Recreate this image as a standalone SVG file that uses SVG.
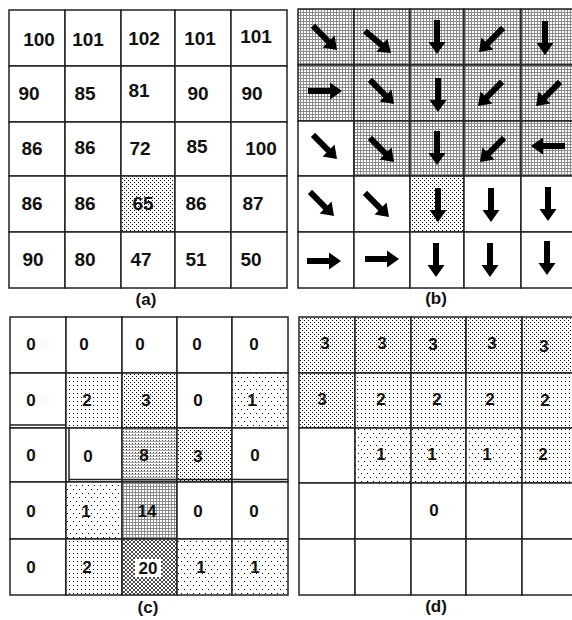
<svg xmlns="http://www.w3.org/2000/svg" xmlns:xlink="http://www.w3.org/1999/xlink" width="572" height="620" viewBox="0 0 572 620">
<style>
.c{fill:#fff;stroke:#222;stroke-width:1.5}
.t{font-family:"Liberation Sans",Arial,sans-serif;font-weight:bold;font-size:19px;fill:#111;text-anchor:middle}
.s{font-family:"Liberation Sans",Arial,sans-serif;font-weight:bold;font-size:17px;fill:#111;text-anchor:middle}
.lab{font-family:"Liberation Sans",Arial,sans-serif;font-weight:bold;font-size:17px;fill:#111;text-anchor:middle}
.ar{fill:#000}
.bl{stroke:#222;stroke-width:1.5;fill:none}
</style>
<defs>
<pattern id="pChk" width="4" height="4" patternUnits="userSpaceOnUse"><rect width="4" height="4" fill="#fff"/><rect x="0" y="0" width="1" height="1" fill="#000"/><rect x="2" y="2" width="1" height="1" fill="#000"/></pattern>
<pattern id="p2" width="4" height="4" patternUnits="userSpaceOnUse"><rect width="4" height="4" fill="#fff"/><rect x="1" y="1" width="1" height="1" fill="#000"/></pattern>
<pattern id="p1" width="6" height="8" patternUnits="userSpaceOnUse"><rect width="6" height="8" fill="#fff"/><rect x="1" y="1" width="1" height="1" fill="#000"/><rect x="4" y="5" width="1" height="1" fill="#000"/></pattern>
<pattern id="pGrid" width="3" height="3" patternUnits="userSpaceOnUse"><rect width="3" height="3" fill="#fff"/><rect x="0" y="0" width="3" height="1" fill="#8a8a8a"/><rect x="0" y="0" width="1" height="3" fill="#8a8a8a"/></pattern>
<pattern id="p8" width="3" height="3" patternUnits="userSpaceOnUse"><rect width="3" height="3" fill="#fff"/><rect x="0" y="0" width="3" height="1" fill="#aaa"/><rect x="0" y="2" width="1" height="1" fill="#444"/></pattern>
<pattern id="pX" width="4" height="4" patternUnits="userSpaceOnUse"><rect width="4" height="4" fill="#fff"/><path d="M0,0 L4,4 M4,0 L0,4" stroke="#333" stroke-width="0.9"/></pattern>
<path id="arr" d="M-17,-3 H5 V-8.5 L17,0 L5,8.5 V3 H-17 Z"/>
</defs>

<!-- Panel (a) -->
<g id="panel-a">
<g id="a11"><rect class="c" x="9" y="10" width="56" height="56"/><text class="t" x="39" y="46">100</text></g>
<g id="a12"><rect class="c" x="65" y="10" width="56" height="56"/><text class="t" x="88" y="46">101</text></g>
<g id="a13"><rect class="c" x="121" y="10" width="54" height="56"/><text class="t" x="144" y="45">102</text></g>
<g id="a14"><rect class="c" x="175" y="10" width="56" height="56"/><text class="t" x="200" y="45">101</text></g>
<g id="a15"><rect class="c" x="231" y="10" width="56" height="56"/><text class="t" x="256" y="43">101</text></g>
<g id="a21"><rect class="c" x="9" y="66" width="56" height="56"/><text class="t" x="29" y="100">90</text></g>
<g id="a22"><rect class="c" x="65" y="66" width="56" height="56"/><text class="t" x="85" y="100">85</text></g>
<g id="a23"><rect class="c" x="121" y="66" width="54" height="56"/><text class="t" x="139" y="97">81</text></g>
<g id="a24"><rect class="c" x="175" y="66" width="56" height="56"/><text class="t" x="198" y="100">90</text></g>
<g id="a25"><rect class="c" x="231" y="66" width="56" height="56"/><text class="t" x="252" y="100">90</text></g>
<g id="a31"><rect class="c" x="9" y="122" width="56" height="54"/><text class="t" x="32" y="155">86</text></g>
<g id="a32"><rect class="c" x="65" y="122" width="56" height="54"/><text class="t" x="85" y="154">86</text></g>
<g id="a33"><rect class="c" x="121" y="122" width="54" height="54"/><text class="t" x="140" y="155">72</text></g>
<g id="a34"><rect class="c" x="175" y="122" width="56" height="54"/><text class="t" x="197" y="153">85</text></g>
<g id="a35"><rect class="c" x="231" y="122" width="56" height="54"/><text class="t" x="261" y="155">100</text></g>
<g id="a41"><rect class="c" x="9" y="176" width="56" height="56"/><text class="t" x="32" y="210">86</text></g>
<g id="a42"><rect class="c" x="65" y="176" width="56" height="56"/><text class="t" x="85" y="210">86</text></g>
<g id="a43"><rect class="c" x="121" y="176" width="54" height="56" style="fill:url(#pChk)"/><text class="t" x="143" y="210">65</text></g>
<g id="a44"><rect class="c" x="175" y="176" width="56" height="56"/><text class="t" x="196" y="210">86</text></g>
<g id="a45"><rect class="c" x="231" y="176" width="56" height="56"/><text class="t" x="253" y="210">87</text></g>
<g id="a51"><rect class="c" x="9" y="232" width="56" height="56"/><text class="t" x="33" y="266">90</text></g>
<g id="a52"><rect class="c" x="65" y="232" width="56" height="56"/><text class="t" x="85" y="266">80</text></g>
<g id="a53"><rect class="c" x="121" y="232" width="54" height="56"/><text class="t" x="141" y="266">47</text></g>
<g id="a54"><rect class="c" x="175" y="232" width="56" height="56"/><text class="t" x="196" y="266">51</text></g>
<g id="a55"><rect class="c" x="231" y="232" width="56" height="56"/><text class="t" x="251" y="266">50</text></g>
<text class="lab" x="146" y="305">(a)</text>
</g>

<!-- Panel (b) -->
<g id="panel-b">
<g id="b11"><rect class="c" x="298" y="9" width="56" height="56" style="fill:url(#pGrid)"/><use href="#arr" class="ar" transform="translate(325,38) rotate(45)"/></g>
<g id="b12"><rect class="c" x="354" y="9" width="56" height="56" style="fill:url(#pGrid)"/><use href="#arr" class="ar" transform="translate(378,42) rotate(40)"/></g>
<g id="b13"><rect class="c" x="410" y="9" width="54" height="56" style="fill:url(#pGrid)"/><use href="#arr" class="ar" transform="translate(437,37) rotate(90)"/></g>
<g id="b14"><rect class="c" x="464" y="9" width="57" height="56" style="fill:url(#pGrid)"/><use href="#arr" class="ar" transform="translate(491,40) rotate(135)"/></g>
<g id="b15"><rect class="c" x="521" y="9" width="56" height="56" style="fill:url(#pGrid)"/><use href="#arr" class="ar" transform="translate(545,38) rotate(90)"/></g>
<g id="b21"><rect class="c" x="298" y="65" width="56" height="56" style="fill:url(#pGrid)"/><use href="#arr" class="ar" transform="translate(325,91)"/></g>
<g id="b22"><rect class="c" x="354" y="65" width="56" height="56" style="fill:url(#pGrid)"/><use href="#arr" class="ar" transform="translate(382,92) rotate(45)"/></g>
<g id="b23"><rect class="c" x="410" y="65" width="54" height="56" style="fill:url(#pGrid)"/><use href="#arr" class="ar" transform="translate(438,95) rotate(90)"/></g>
<g id="b24"><rect class="c" x="464" y="65" width="57" height="56" style="fill:url(#pGrid)"/><use href="#arr" class="ar" transform="translate(490,94) rotate(135)"/></g>
<g id="b25"><rect class="c" x="521" y="65" width="56" height="56" style="fill:url(#pGrid)"/><use href="#arr" class="ar" transform="translate(548,94) rotate(135)"/></g>
<g id="b31"><rect class="c" x="298" y="121" width="56" height="55"/><use href="#arr" class="ar" transform="translate(325,147) rotate(45)"/></g>
<g id="b32"><rect class="c" x="354" y="121" width="56" height="55" style="fill:url(#pGrid)"/><use href="#arr" class="ar" transform="translate(382,150) rotate(45)"/></g>
<g id="b33"><rect class="c" x="410" y="121" width="54" height="55" style="fill:url(#pGrid)"/><use href="#arr" class="ar" transform="translate(437,148) rotate(90)"/></g>
<g id="b34"><rect class="c" x="464" y="121" width="57" height="55" style="fill:url(#pGrid)"/><use href="#arr" class="ar" transform="translate(492,150) rotate(135)"/></g>
<g id="b35"><rect class="c" x="521" y="121" width="56" height="55" style="fill:url(#pGrid)"/><use href="#arr" class="ar" transform="translate(548,146) rotate(180)"/></g>
<g id="b41"><rect class="c" x="298" y="176" width="56" height="56"/><use href="#arr" class="ar" transform="translate(322,204) rotate(45)"/></g>
<g id="b42"><rect class="c" x="354" y="176" width="56" height="56"/><use href="#arr" class="ar" transform="translate(377,205) rotate(45)"/></g>
<g id="b43"><rect class="c" x="410" y="176" width="54" height="56" style="fill:url(#pChk)"/><use href="#arr" class="ar" transform="translate(438,205) rotate(90)"/></g>
<g id="b44"><rect class="c" x="464" y="176" width="57" height="56"/><use href="#arr" class="ar" transform="translate(491,205) rotate(90)"/></g>
<g id="b45"><rect class="c" x="521" y="176" width="56" height="56"/><use href="#arr" class="ar" transform="translate(548,204) rotate(90)"/></g>
<g id="b51"><rect class="c" x="298" y="232" width="56" height="56"/><use href="#arr" class="ar" transform="translate(324,261)"/></g>
<g id="b52"><rect class="c" x="354" y="232" width="56" height="56"/><use href="#arr" class="ar" transform="translate(382,259)"/></g>
<g id="b53"><rect class="c" x="410" y="232" width="54" height="56"/><use href="#arr" class="ar" transform="translate(436,260) rotate(90)"/></g>
<g id="b54"><rect class="c" x="464" y="232" width="57" height="56"/><use href="#arr" class="ar" transform="translate(490,260) rotate(90)"/></g>
<g id="b55"><rect class="c" x="521" y="232" width="56" height="56"/><use href="#arr" class="ar" transform="translate(547,258) rotate(90)"/></g>
<text class="lab" x="436" y="304">(b)</text>
</g>

<!-- Panel (c) -->
<g id="panel-c">
<g id="c11"><rect class="c" x="10" y="317" width="56" height="56"/><text class="s" x="31" y="350">0</text></g>
<g id="c12"><rect class="c" x="66" y="317" width="56" height="56"/><text class="s" x="84" y="350">0</text></g>
<g id="c13"><rect class="c" x="122" y="317" width="55" height="56"/><text class="s" x="140" y="350">0</text></g>
<g id="c14"><rect class="c" x="177" y="317" width="55" height="56"/><text class="s" x="197" y="350">0</text></g>
<g id="c15"><rect class="c" x="232" y="317" width="56" height="56"/><text class="s" x="254" y="350">0</text></g>
<g id="c21"><rect class="c" x="10" y="373" width="56" height="55"/><text class="s" x="31" y="406">0</text></g>
<g id="c22"><rect class="c" x="66" y="373" width="56" height="55" style="fill:url(#p2)"/><text class="s" x="87" y="406">2</text></g>
<g id="c23"><rect class="c" x="122" y="373" width="55" height="55" style="fill:url(#pChk)"/><text class="s" x="146" y="406">3</text></g>
<g id="c24"><rect class="c" x="177" y="373" width="55" height="55"/><text class="s" x="198" y="406">0</text></g>
<g id="c25"><rect class="c" x="232" y="373" width="56" height="55" style="fill:url(#p1)"/><text class="s" x="252" y="406">1</text></g>
<g id="c31"><rect class="c" x="10" y="428" width="56" height="54"/><text class="s" x="31" y="461">0</text></g>
<g id="c32"><rect class="c" x="66" y="428" width="56" height="54"/><text class="s" x="88" y="462">0</text></g>
<g id="c33"><rect class="c" x="122" y="428" width="55" height="54" style="fill:url(#p8)"/><text class="s" x="144" y="461">8</text></g>
<g id="c34"><rect class="c" x="177" y="428" width="55" height="54" style="fill:url(#pChk)"/><text class="s" x="198" y="462">3</text></g>
<g id="c35"><rect class="c" x="232" y="428" width="56" height="54"/><text class="s" x="255" y="461">0</text></g>
<g id="c41"><rect class="c" x="10" y="482" width="56" height="57"/><text class="s" x="31" y="517">0</text></g>
<g id="c42"><rect class="c" x="66" y="482" width="56" height="57" style="fill:url(#p1)"/><text class="s" x="86" y="517">1</text></g>
<g id="c43"><rect class="c" x="122" y="482" width="55" height="57" style="fill:url(#pGrid)"/><text class="s" x="147" y="517">14</text></g>
<g id="c44"><rect class="c" x="177" y="482" width="55" height="57"/><text class="s" x="198" y="517">0</text></g>
<g id="c45"><rect class="c" x="232" y="482" width="56" height="57"/><text class="s" x="254" y="517">0</text></g>
<g id="c51"><rect class="c" x="10" y="539" width="56" height="56"/><text class="s" x="31" y="573">0</text></g>
<g id="c52"><rect class="c" x="66" y="539" width="56" height="56" style="fill:url(#p2)"/><text class="s" x="87" y="573">2</text></g>
<g id="c53"><rect class="c" x="122" y="539" width="55" height="56" style="fill:url(#pX)"/><rect x="135" y="559" width="26" height="18" fill="#fff"/><text class="s" x="148" y="574">20</text></g>
<g id="c54"><rect class="c" x="177" y="539" width="55" height="56" style="fill:url(#p1)"/><text class="s" x="201" y="573">1</text></g>
<g id="c55"><rect class="c" x="232" y="539" width="56" height="56" style="fill:url(#p1)"/><text class="s" x="255" y="573">1</text></g>
<text class="lab" x="148" y="613">(c)</text>
</g>

<!-- Panel (d) -->
<g id="panel-d">
<g id="d11"><rect class="c" x="299" y="317" width="56" height="56" style="fill:url(#pChk)"/><text class="s" x="325" y="349">3</text></g>
<g id="d12"><rect class="c" x="355" y="317" width="56" height="56" style="fill:url(#pChk)"/><text class="s" x="382" y="349">3</text></g>
<g id="d13"><rect class="c" x="411" y="317" width="55" height="56" style="fill:url(#pChk)"/><text class="s" x="433" y="350">3</text></g>
<g id="d14"><rect class="c" x="466" y="317" width="56" height="56" style="fill:url(#pChk)"/><text class="s" x="492" y="349">3</text></g>
<g id="d15"><rect class="c" x="522" y="317" width="56" height="56" style="fill:url(#pChk)"/><text class="s" x="544" y="352">3</text></g>
<g id="d21"><rect class="c" x="299" y="373" width="56" height="55" style="fill:url(#pChk)"/><text class="s" x="322" y="405">3</text></g>
<g id="d22"><rect class="c" x="355" y="373" width="56" height="55" style="fill:url(#p2)"/><text class="s" x="381" y="405">2</text></g>
<g id="d23"><rect class="c" x="411" y="373" width="55" height="55" style="fill:url(#p2)"/><text class="s" x="437" y="405">2</text></g>
<g id="d24"><rect class="c" x="466" y="373" width="56" height="55" style="fill:url(#p2)"/><text class="s" x="490" y="405">2</text></g>
<g id="d25"><rect class="c" x="522" y="373" width="56" height="55" style="fill:url(#p2)"/><text class="s" x="545" y="406">2</text></g>
<g id="d31"><rect class="c" x="299" y="428" width="56" height="55"/></g>
<g id="d32"><rect class="c" x="355" y="428" width="56" height="55" style="fill:url(#p1)"/><text class="s" x="381" y="460">1</text></g>
<g id="d33"><rect class="c" x="411" y="428" width="55" height="55" style="fill:url(#p1)"/><text class="s" x="432" y="460">1</text></g>
<g id="d34"><rect class="c" x="466" y="428" width="56" height="55" style="fill:url(#p1)"/><text class="s" x="487" y="460">1</text></g>
<g id="d35"><rect class="c" x="522" y="428" width="56" height="55" style="fill:url(#p2)"/><text class="s" x="543" y="460">2</text></g>
<g id="d41"><rect class="c" x="299" y="483" width="56" height="56"/></g>
<g id="d42"><rect class="c" x="355" y="483" width="56" height="56"/></g>
<g id="d43"><rect class="c" x="411" y="483" width="55" height="56"/><text class="s" x="434" y="516">0</text></g>
<g id="d44"><rect class="c" x="466" y="483" width="56" height="56"/></g>
<g id="d45"><rect class="c" x="522" y="483" width="56" height="56"/></g>
<g id="d51"><rect class="c" x="299" y="539" width="56" height="56"/></g>
<g id="d52"><rect class="c" x="355" y="539" width="56" height="56"/></g>
<g id="d53"><rect class="c" x="411" y="539" width="55" height="56"/></g>
<g id="d54"><rect class="c" x="466" y="539" width="56" height="56"/></g>
<g id="d55"><rect class="c" x="522" y="539" width="56" height="56"/></g>
<text class="lab" x="436" y="612">(d)</text>
</g>

<!-- double boundary lines in (c) -->
<g id="connectors">
<path class="bl" d="M10,425 H66 M69,428 V482 M69,479.5 H122 M122,479.5 H288"/>
</g>
</svg>
